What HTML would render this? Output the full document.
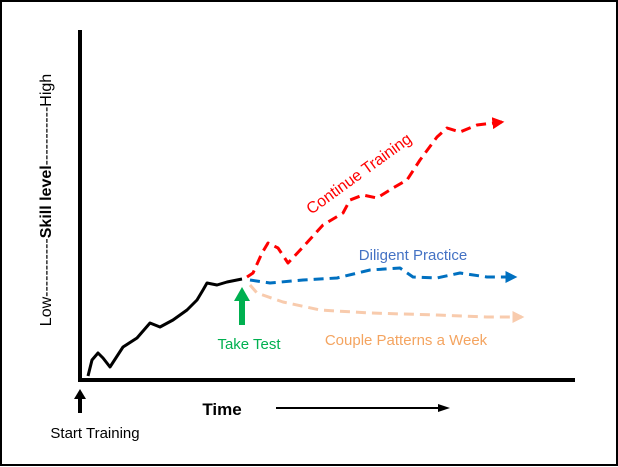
<!DOCTYPE html>
<html><head><meta charset="utf-8">
<style>
html,body{margin:0;padding:0;background:#fff;}
#wrap{position:relative;width:618px;height:467px;overflow:hidden;}
svg text{font-family:"Liberation Sans",sans-serif;}
</style></head>
<body>
<div id="wrap">
<svg id="chart" width="618" height="467" viewBox="0 0 618 467" xmlns="http://www.w3.org/2000/svg">
<defs>
<marker id="mRed" viewBox="0 0 10 10" refX="8" refY="5" markerWidth="4" markerHeight="4" orient="auto"><path d="M0,0L10,5L0,10z" fill="#ff0000"/></marker>
<marker id="mBlue" viewBox="0 0 10 10" refX="8" refY="5" markerWidth="4" markerHeight="4" orient="auto"><path d="M0,0L10,5L0,10z" fill="#0070c0"/></marker>
<marker id="mOrange" viewBox="0 0 10 10" refX="8" refY="5" markerWidth="4" markerHeight="4" orient="auto"><path d="M0,0L10,5L0,10z" fill="#f8cbad"/></marker>
</defs>
<rect x="1" y="1" width="616" height="464" fill="#fff" stroke="#000" stroke-width="2"/>
<line x1="80" y1="30" x2="80" y2="382" stroke="#000" stroke-width="4"/>
<line x1="78" y1="380" x2="575" y2="380" stroke="#000" stroke-width="4"/>
<text x="0" y="0" transform="translate(51,200) rotate(-90)" text-anchor="middle" font-size="16">Low-----------<tspan font-weight="bold">Skill level</tspan>-----------High</text>
<text x="222" y="415" text-anchor="middle" font-size="17" font-weight="bold">Time</text>
<line x1="276" y1="408" x2="440" y2="408" stroke="#000" stroke-width="2"/>
<path d="M438,404L450,408L438,412z" fill="#000"/>
<path d="M80,389L74,399L78,399L78,413L82,413L82,399L86,399z" fill="#000"/>
<text x="95" y="438" text-anchor="middle" font-size="15">Start Training</text>
<path d="M242,287L234,301L239,301L239,325L245,325L245,301L250,301z" fill="#00b050"/>
<text x="249" y="349" text-anchor="middle" font-size="15" fill="#00b050">Take Test</text>
<text x="413" y="260" text-anchor="middle" font-size="15" fill="#4472c4">Diligent Practice</text>
<text x="406" y="345" text-anchor="middle" font-size="15" fill="#f4a460">Couple Patterns a Week</text>
<text x="0" y="0" transform="translate(362,178) rotate(-36)" text-anchor="middle" font-size="16" fill="#ff0000">Continue Training</text>
<g id="series"></g>
</svg>
</div>
<script>
// time values (x) and skill values (y) for each path
const baseT = [8,12,18,23,30,43,57,70,80,93,107,117,123,127,137,147,162];
const baseS = [4,20,27,22,13,33,42,57,53,60,70,80,90,97,95,98,101];
const redT = [167,173,182,188,198,208,223,243,263,270,283,297,313,327,340,357,367,380,397,422];
const redS = [103,107,127,137,132,117,133,155,167,180,185,182,192,200,220,243,252,248,255,258];
const blueT = [170,190,223,257,290,320,333,357,380,407,435];
const blueS = [100,97,100,102,110,112,103,102,107,103,103];
const orangeT = [170,177,203,240,290,357,407,442];
const orangeS = [95,87,78,70,67,65,63,63];
const xAxis = t => 80 + t;
const yAxis = s => 380 - s;
const g = document.getElementById('series');
function draw(ts, ss, color, dash, marker, name){
  const p = document.createElementNS('http://www.w3.org/2000/svg','polyline');
  p.setAttribute('points', ts.map((t,i)=>xAxis(t)+','+yAxis(ss[i])).join(' '));
  p.setAttribute('fill','none');
  p.setAttribute('stroke',color);
  p.setAttribute('stroke-width','3');
  p.setAttribute('stroke-linejoin','round');
  if(dash) p.setAttribute('stroke-dasharray',dash);
  if(marker) p.setAttribute('marker-end','url(#'+marker+')');
  
  
  g.appendChild(p);
}
draw(baseT, baseS, '#000', null, null, 'training-line');
draw(orangeT, orangeS, '#f8cbad', '10,6', 'mOrange', 'couple-patterns-line');
draw(blueT, blueS, '#0070c0', '10,6', 'mBlue', 'diligent-practice-line');
draw(redT, redS, '#ff0000', '10,6', 'mRed', 'continue-training-line');
</script>
</body></html>
